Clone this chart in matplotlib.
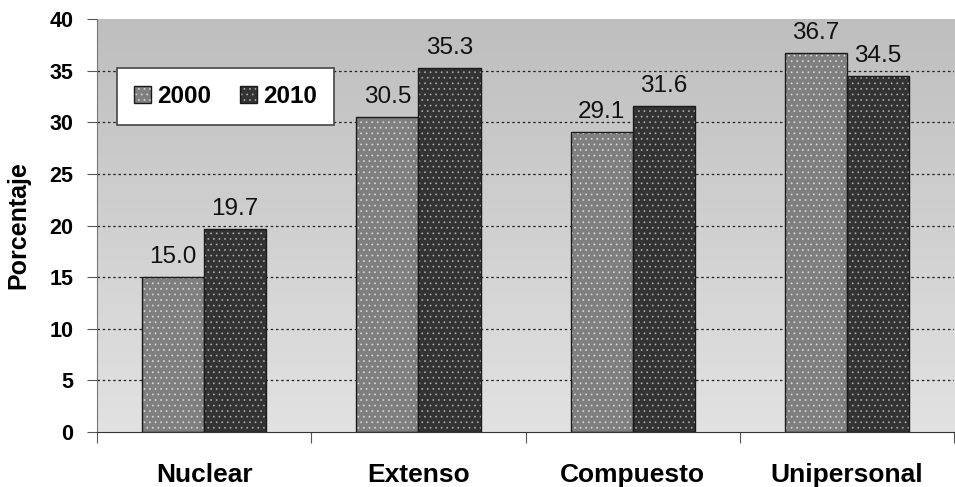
import matplotlib
matplotlib.use("Agg")
import matplotlib.pyplot as plt
import numpy as np
from matplotlib.colors import LinearSegmentedColormap
from matplotlib.patches import Patch
from matplotlib.legend_handler import HandlerTuple

plt.rcParams['font.family'] = ['Liberation Sans', 'DejaVu Sans']
plt.rcParams['hatch.linewidth'] = 0.6

categories = ["Nuclear", "Extenso", "Compuesto", "Unipersonal"]
series_names = ["2000", "2010"]
values_2000 = [15.0, 30.5, 29.1, 36.7]
values_2010 = [19.7, 35.3, 31.6, 34.5]
yticks = [0, 5, 10, 15, 20, 25, 30, 35, 40]

fig = plt.figure(figsize=(9.55, 4.87), dpi=100)
ax = fig.add_axes([0.1016, 0.1129, 0.8974, 0.848])

n = len(categories)
x = np.arange(n)
w = 0.29

# gradient background (dark at top, light at bottom)
grad = np.linspace(0, 1, 256).reshape(-1, 1)
cmap = LinearSegmentedColormap.from_list('bg', ['#bebebe', '#e2e2e2'])
ax.imshow(grad, cmap=cmap, aspect='auto', extent=(-0.5, n - 0.5, 0, 40),
          origin='upper', zorder=0, interpolation='bicubic')

for y in yticks[1:-1]:
    ax.axhline(y, color='#222222', linestyle=(0, (2, 2.2)), linewidth=0.9, zorder=1)

colors = ['#7f7f7f', '#333333']
dotcols = [(1, 1, 1, 0.55), (1, 1, 1, 0.45)]
for i, (vals, off) in enumerate(((values_2000, -w / 2), (values_2010, w / 2))):
    ax.bar(x + off, vals, w, color=colors[i], edgecolor='none', linewidth=0, zorder=2)
    ax.bar(x + off, vals, w, facecolor='none', edgecolor=dotcols[i], linewidth=0.01,
           hatch='...', zorder=2.1)
    bars = ax.bar(x + off, vals, w, facecolor='none', edgecolor='#1a1a1a',
                  linewidth=1.0, zorder=2.2)
    for rect, v in zip(bars, vals):
        ax.annotate(f"{v:.1f}", (rect.get_x() + rect.get_width() / 2, v),
                    xytext=(0, 10), textcoords='offset points',
                    ha='center', va='baseline', fontsize=17.5, color='#111111', zorder=3)

ax.set_xlim(-0.5, n - 0.5)
ax.set_ylim(0, 40)
ax.set_yticks(yticks)
ax.set_yticklabels([str(t) for t in yticks], fontsize=15.5, fontweight='bold')
ax.set_xticks(np.arange(n + 1) - 0.5)
ax.set_xticklabels([])
ax.set_xticks(x, minor=True)
ax.set_xticklabels(categories, minor=True, fontsize=19, fontweight='bold')
ax.tick_params(axis='x', which='minor', length=0, pad=22)
ax.tick_params(axis='x', which='major', length=8, direction='out', color='#555555')
ax.tick_params(axis='y', length=7, direction='out', color='#555555', pad=10)

ax.spines['top'].set_visible(False)
ax.spines['right'].set_visible(False)
ax.spines['left'].set_color('#777777')
ax.spines['bottom'].set_color('#333333')

ax.set_ylabel("Porcentaje", fontsize=18, fontweight='bold', labelpad=14)

# legend proxies: fill + dots + outline overlaid
proxies = []
for i in range(2):
    p_fill = Patch(facecolor=colors[i], edgecolor='none', linewidth=0)
    p_dots = Patch(facecolor='none', edgecolor=dotcols[i], linewidth=0.01, hatch='...')
    p_out = Patch(facecolor='none', edgecolor='#1a1a1a', linewidth=1.0)
    proxies.append((p_fill, p_dots, p_out))
leg = ax.legend(proxies, series_names, loc='upper left', bbox_to_anchor=(0.023, 0.881),
                ncol=2, prop={'size': 17.5, 'weight': 'bold'}, frameon=True,
                handler_map={tuple: HandlerTuple(ndivide=1, pad=0)},
                fancybox=False, handlelength=0.7, handleheight=0.7, handletextpad=0.25,
                columnspacing=1.2, borderpad=0.7, borderaxespad=0)
leg.get_frame().set_edgecolor('#444444')
leg.get_frame().set_linewidth(1.2)
leg.get_frame().set_facecolor('white')
leg.get_frame().set_alpha(1)

fig.savefig("out.png", dpi=100)
